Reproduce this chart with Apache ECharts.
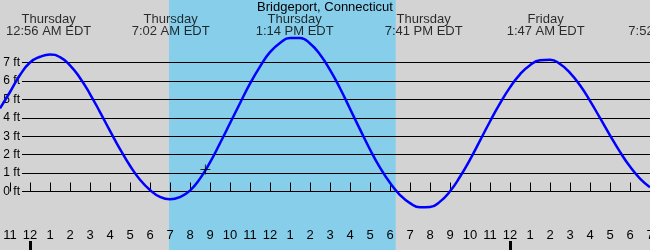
<!DOCTYPE html>
<html><head><meta charset="utf-8">
<script src="https://cdn.jsdelivr.net/npm/echarts@6/dist/echarts.min.js"></script>
<style>html,body{margin:0;padding:0;background:#d3d3d3}#c{width:650px;height:250px}</style>
</head><body><div id="c"></div>
<script>
const stationName = 'Bridgeport, Connecticut';
// half-hourly readings: hours since Thursday 12 AM, tide height in feet
const tideHours = [-1.5, -1, -0.5, 0, 0.5, 1, 1.5, 2, 2.5, 3, 3.5, 4, 4.5, 5, 5.5, 6, 6.5, 7, 7.5, 8,
  8.5, 9, 9.5, 10, 10.5, 11, 11.5, 12, 12.5, 13, 13.5, 14, 14.5, 15, 15.5, 16, 16.5, 17, 17.5, 18,
  18.5, 19, 19.5, 20, 20.5, 21, 21.5, 22, 22.5, 23, 23.5, 24, 24.5, 25, 25.5, 26, 26.5, 27, 27.5, 28,
  28.5, 29, 29.5, 30, 30.5, 31];
const tideFeet = [4.51, 5.40, 6.32, 7.00, 7.31, 7.44, 7.29, 6.85, 6.16, 5.29, 4.31, 3.29, 2.30, 1.40, 0.64, 0.08, -0.29, -0.42, -0.30, 0.05,
  0.70, 1.58, 2.62, 3.70, 4.79, 5.85, 6.78, 7.56, 8.06, 8.33, 8.33, 8.03, 7.43, 6.60, 5.60, 4.49, 3.37, 2.28, 1.30, 0.47,
  -0.19, -0.63, -0.86, -0.84, -0.55, 0.01, 0.80, 1.73, 2.76, 3.80, 4.78, 5.65, 6.36, 6.85, 7.12, 7.15, 6.92, 6.44, 5.76, 4.92,
  3.99, 3.05, 2.15, 1.35, 0.70, 0.23];
const extremeHours = [0.933, 7.033, 13.233, 19.683, 25.783, 31.867];
const extremeDays = ['Thursday', 'Thursday', 'Thursday', 'Thursday', 'Friday', 'Friday'];
const extremeTimes = ['12:56 AM EDT', '7:02 AM EDT', '1:14 PM EDT', '7:41 PM EDT', '1:47 AM EDT', '7:52 AM EDT'];
const daylight = [6.95, 18.285];
const hourTicks = [-1,0,1,2,3,4,5,6,7,8,9,10,11,12,13,14,15,16,17,18,19,20,21,22,23,24,25,26,27,28,29,30,31];
const midnightTicks = [0, 24];
const depthTicks = [0, 1, 2, 3, 4, 5, 6, 7];
const nowPoint = [8.77, 1.2];

const FONT = 'Liberation Sans';
const X_MIN = -1.5, X_MAX = 31;
const Y_MIN = -3.174, Y_MAX = 10.391;
const LABEL_ROW_V = 9.0;

const chart = echarts.init(document.getElementById('c'), null, {renderer: 'canvas'});
const hourLabel = h => { const m = ((h % 12) + 12) % 12; return String(m === 0 ? 12 : m); };

chart.setOption({
  animation: false,
  backgroundColor: '#d3d3d3',
  title: {
    text: stationName, left: 'center', top: 1, padding: 0,
    textStyle: {fontFamily: FONT, fontSize: 13, fontWeight: 'normal', color: '#000'}
  },
  grid: [
    {left: 0, right: 0, top: 0, bottom: 0, outerBoundsMode: 'none', containLabel: false},
    {left: 22, right: 0, top: 62.49, bottom: 58.5, outerBoundsMode: 'none', containLabel: false}
  ],
  xAxis: [
    {
      type: 'value', gridIndex: 0, min: X_MIN, max: X_MAX, position: 'bottom', z: 5,
      axisLine: {show: false}, splitLine: {show: false},
      axisTick: {show: true, inside: true, length: 9, customValues: hourTicks, lineStyle: {color: '#000', width: 1}},
      axisLabel: {show: true, inside: true, margin: 8, customValues: hourTicks, showMinLabel: true, showMaxLabel: true,
        hideOverlap: false,
        formatter: v => hourLabel(v), color: '#000', fontFamily: FONT, fontSize: 13}
    },
    {
      type: 'value', gridIndex: 0, min: X_MIN, max: X_MAX, position: 'bottom', z: 5,
      axisLine: {show: false}, splitLine: {show: false}, axisLabel: {show: false},
      axisTick: {show: true, inside: true, length: 9, customValues: midnightTicks, lineStyle: {color: '#000', width: 3}}
    },
    {type: 'value', gridIndex: 1, min: 0, max: 1, show: false}
  ],
  yAxis: [
    {type: 'value', gridIndex: 0, min: Y_MIN, max: Y_MAX, show: false},
    {
      type: 'value', gridIndex: 1, min: depthTicks[0], max: depthTicks[depthTicks.length - 1], interval: 1, z: 5,
      axisLine: {show: false}, axisTick: {show: false},
      splitLine: {show: true, lineStyle: {color: '#000', width: 1}},
      axisLabel: {show: true, margin: 2, formatter: '{value} ft', color: '#000', fontFamily: FONT, fontSize: 12}
    }
  ],
  series: [
    {
      type: 'line', xAxisIndex: 0, yAxisIndex: 0, z: 10,
      data: tideHours.map((h, i) => [h, tideFeet[i]]),
      smooth: 0.5, showSymbol: false, symbol: 'none',
      lineStyle: {color: '#0000ff', width: 2.5},
      markArea: {
        silent: true,
        itemStyle: {color: '#87ceeb', opacity: 1},
        data: [[{xAxis: daylight[0]}, {xAxis: daylight[1]}]]
      }
    },
    {
      type: 'scatter', xAxisIndex: 0, yAxisIndex: 0, z: 12, silent: true,
      data: [nowPoint],
      symbol: 'path://M4.5,0h1v4.5h4.5v1h-4.5v4.5h-1v-4.5h-4.5v-1h4.5z',
      symbolSize: 10, itemStyle: {color: '#000'}
    },
    {
      type: 'scatter', xAxisIndex: 0, yAxisIndex: 0, z: 12, silent: true, clip: false,
      data: extremeHours.map(h => [h, LABEL_ROW_V]),
      symbolSize: 1, itemStyle: {color: 'transparent'},
      label: {
        show: true, position: 'inside', lineHeight: 12, align: 'center',
        color: '#000', fontFamily: FONT, fontSize: 13,
        formatter: p => extremeDays[p.dataIndex] + '\n' + extremeTimes[p.dataIndex]
      }
    }
  ]
});
</script>
</body></html>
